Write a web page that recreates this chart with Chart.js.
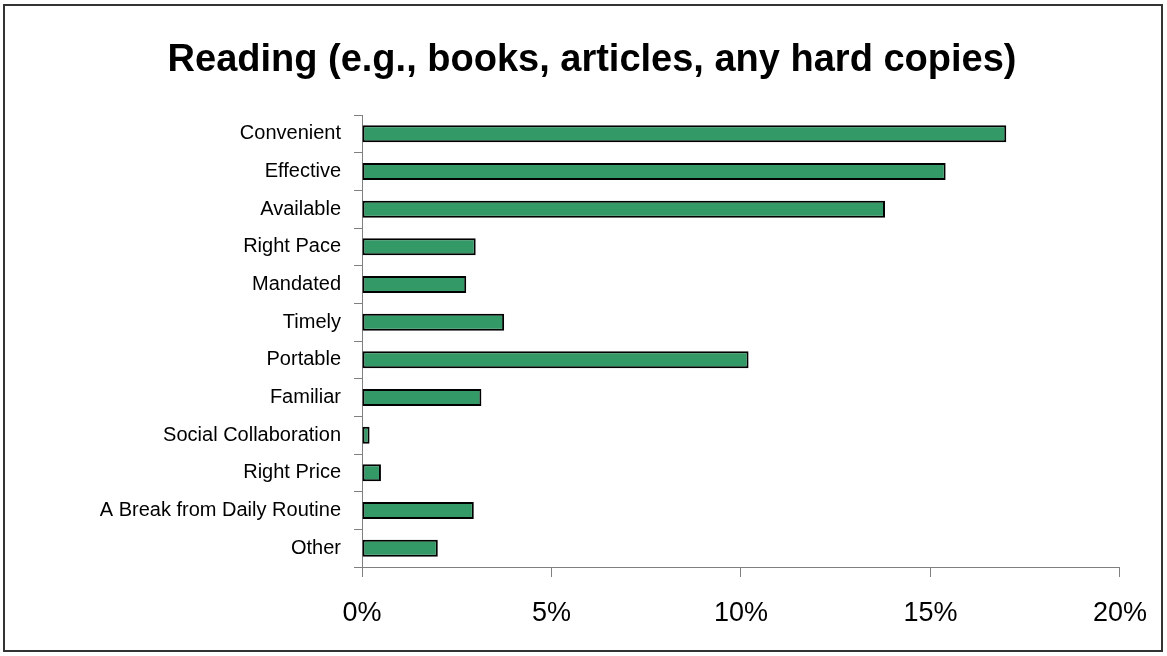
<!DOCTYPE html>
<html>
<head>
<meta charset="utf-8">
<script src="https://cdn.jsdelivr.net/npm/chart.js@4.4.1/dist/chart.umd.min.js"></script>
<style>
  html, body { margin: 0; padding: 0; background: #fff; }
  #wrap { position: relative; width: 1167px; height: 656px; }
  #frame {
    position: absolute; left: 3px; top: 4px; width: 1160px; height: 648px;
    border: 2px solid #333; box-sizing: border-box; pointer-events: none;
  }
  canvas { position: absolute; left: 0; top: 0; }
</style>
</head>
<body>
<div id="wrap">
  <canvas id="readingChart" width="1167" height="656"></canvas>
  <div id="frame"></div>
</div>
<script>
const categories = [
  "Convenient",
  "Effective",
  "Available",
  "Right Pace",
  "Mandated",
  "Timely",
  "Portable",
  "Familiar",
  "Social Collaboration",
  "Right Price",
  "A Break from Daily Routine",
  "Other"
];
const shares = [17.0, 15.4, 13.8, 3.0, 2.75, 3.75, 10.2, 3.15, 0.2, 0.5, 2.95, 2.0];
const xTicks = [0, 5, 10, 15, 20];

const chartCanvas = document.getElementById("readingChart");
const fontFamily = "'Liberation Sans', Arial, sans-serif";

// plot area spans x 362..1120, y 115..567
const padLeft = 64;
const padRight = 47;

new Chart(chartCanvas, {
  type: "bar",
  data: {
    labels: categories,
    datasets: [
      {
        data: shares,
        backgroundColor: "#339966",
        borderColor: "#000000",
        borderWidth: 2,
        borderSkipped: false,
        barPercentage: 0.45,
        categoryPercentage: 1
      }
    ]
  },
  options: {
    indexAxis: "y",
    responsive: false,
    animation: false,
    layout: { padding: { left: padLeft, right: padRight, top: 0, bottom: 0 } },
    plugins: {
      legend: { display: false },
      tooltip: { enabled: false },
      title: {
        display: true,
        text: "Reading (e.g., books, articles, any hard copies)",
        color: "#000",
        font: { family: fontFamily, size: 38, weight: "bold", lineHeight: 1.2 },
        padding: { top: 38, bottom: 31.4 }
      }
    },
    scales: {
      x: {
        min: 0,
        max: 20,
        afterBuildTicks: (scale) => {
          scale.ticks = xTicks.map((value) => ({ value }));
        },
        afterFit: (scale) => {
          scale.height = 89;
        },
        border: { color: "#808080", width: 1 },
        grid: { drawOnChartArea: false, tickLength: 10, color: "#808080" },
        ticks: {
          color: "#000",
          padding: 20,
          font: { family: fontFamily, size: 27 },
          callback: (value) => `${value}%`
        }
      },
      y: {
        afterFit: (scale) => {
          scale.width = 362 - padLeft;
        },
        border: { color: "#808080", width: 1 },
        grid: { drawOnChartArea: false, tickLength: 8, color: "#808080", offset: true },
        ticks: {
          color: "#000",
          padding: 13,
          autoSkip: false,
          font: { family: fontFamily, size: 20 }
        }
      }
    }
  }
});
</script>
</body>
</html>
